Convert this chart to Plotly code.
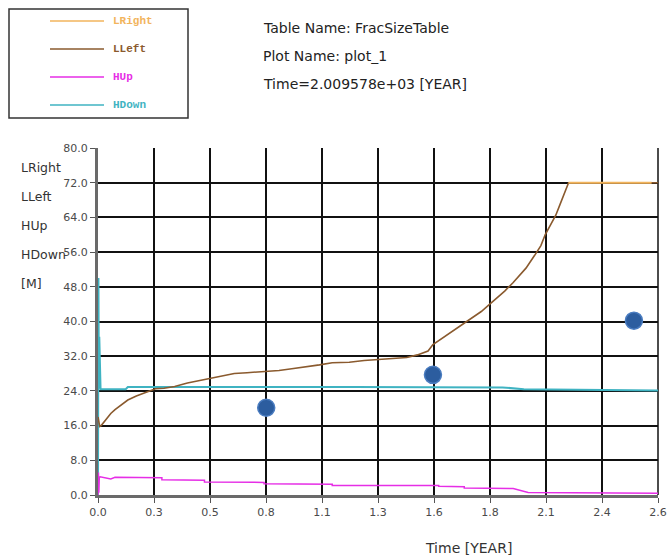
import plotly.graph_objects as go

# ---------------- data ----------------
series_names = ["LRight", "LLeft", "HUp", "HDown"]
series_colors = {"LRight": "#f2b45c", "LLeft": "#8a5a2e", "HUp": "#e62ee6", "HDown": "#3fb3c2"}

lleft_x = [0.0, 0.003, 0.008, 0.015, 0.02, 0.04, 0.06, 0.08, 0.11, 0.14, 0.18, 0.22, 0.27, 0.31,
           0.36, 0.42, 0.47, 0.52, 0.58, 0.64, 0.70, 0.79, 0.85, 0.91, 0.98, 1.04, 1.10, 1.18,
           1.25, 1.30, 1.38, 1.45, 1.50, 1.55, 1.573, 1.62, 1.67, 1.72, 1.76, 1.80, 1.84, 1.87,
           1.91, 1.95, 1.98, 2.01, 2.05, 2.08, 2.10, 2.13, 2.15, 2.17, 2.19, 2.21, 2.40, 2.63]
lleft_y = [18.0, 17.0, 15.8, 16.0, 16.3, 17.6, 18.8, 19.7, 20.9, 21.9, 22.8, 23.6, 24.5, 24.6,
           25.0, 25.8, 26.3, 26.8, 27.3, 28.0, 28.2, 28.4, 28.7, 29.1, 29.5, 30.0, 30.5, 30.6,
           31.0, 31.2, 31.4, 31.7, 32.3, 33.2, 34.7, 36.3, 38.0, 39.6, 41.0, 42.3, 44.0, 45.2,
           47.0, 49.0, 50.6, 52.3, 55.2, 57.5, 60.0, 62.8, 64.5, 67.0, 69.5, 72.0, 72.0, 72.0]

lright_x = [2.21, 2.40, 2.60]
lright_y = [72.0, 72.0, 72.0]

hup_x = [0.0, 0.002, 0.004, 0.006, 0.01, 0.04, 0.06, 0.08, 0.30, 0.30, 0.50, 0.50, 0.78, 0.78,
         1.10, 1.10, 1.60, 1.60, 1.72, 1.72, 1.95, 2.02, 2.40, 2.63]
hup_y = [0.0, 5.2, 0.5, 4.0, 4.2, 4.0, 3.7, 4.1, 4.0, 3.5, 3.4, 3.0, 2.9, 2.6,
         2.5, 2.2, 2.2, 2.0, 1.9, 1.6, 1.5, 0.6, 0.5, 0.4]

hdown_x = [0.0, 0.002, 0.004, 0.006, 0.009, 0.012, 0.13, 0.14, 1.20, 1.90, 2.00, 2.20, 2.63]
hdown_y = [0.0, 50.0, 24.5, 36.5, 24.5, 24.4, 24.4, 24.9, 24.9, 24.8, 24.4, 24.3, 24.1]

marker_x = [0.79, 1.573, 2.517]
marker_y = [20.1, 27.7, 40.2]

x_max = 2.63
x_tick_labels = ["0.0", "0.3", "0.5", "0.8", "1.1", "1.3", "1.6", "1.8", "2.1", "2.4", "2.6"]
y_tick_values = [0, 8, 16, 24, 32, 40, 48, 56, 64, 72, 80]

header_lines = ["Table Name: FracSizeTable", "Plot Name: plot_1", "Time=2.009578e+03 [YEAR]"]
y_title_lines = ["LRight", "LLeft", "HUp", "HDown", "[M]"]
x_title = "Time [YEAR]"

# ---------------- figure ----------------
W, H = 667, 557
ML, MR, MT, MB = 98, 9, 148, 62
PW, PH = W - ML - MR, H - MT - MB

def px_x(p):  # pixel -> paper
    return (p - ML) / PW

def px_y(p):
    return 1 - (p - MT) / PH

fig = go.Figure()
fig.add_trace(go.Scatter(x=hdown_x, y=hdown_y, mode="lines", name="HDown",
                         line=dict(color=series_colors["HDown"], width=2)))
fig.add_trace(go.Scatter(x=hup_x, y=hup_y, mode="lines", name="HUp",
                         line=dict(color=series_colors["HUp"], width=1.5)))
fig.add_trace(go.Scatter(x=lleft_x, y=lleft_y, mode="lines", name="LLeft",
                         line=dict(color=series_colors["LLeft"], width=1.6)))
fig.add_trace(go.Scatter(x=lright_x, y=lright_y, mode="lines", name="LRight",
                         line=dict(color=series_colors["LRight"], width=2)))
fig.add_trace(go.Scatter(x=marker_x, y=marker_y, mode="markers", name="points",
                         marker=dict(size=17, color="#2c5d9f",
                                     line=dict(color="#4a7cc0", width=1.5))))

x_tick_vals = [i * x_max / (len(x_tick_labels) - 1) for i in range(len(x_tick_labels))]

tick_font = dict(family="DejaVu Sans", size=11, color="#4a4a4a")
fig.update_xaxes(range=[0, x_max], tickvals=x_tick_vals, ticktext=x_tick_labels,
                 showgrid=True, gridcolor="#111111", gridwidth=1.5, zeroline=False,
                 showline=True, linecolor="#6a6a6a", linewidth=3, automargin=False,
                 ticks="outside", ticklen=5, tickcolor="#555555", tickfont=tick_font)
fig.update_yaxes(range=[0, 80], tickvals=y_tick_values,
                 ticktext=[f"{v:.1f}" for v in y_tick_values],
                 showgrid=True, gridcolor="#111111", gridwidth=1.5, zeroline=False,
                 showline=True, linecolor="#6a6a6a", linewidth=3, automargin=False,
                 ticks="outside", ticklen=5, tickcolor="#555555", tickfont=tick_font)

shapes = []
annotations = []

# right frame edge (gridline at range end)
shapes.append(dict(type="line", xref="paper", yref="paper", x0=1, x1=1, y0=0, y1=1,
                   line=dict(color="#111111", width=1.5), layer="below"))

# legend box
shapes.append(dict(type="rect", xref="paper", yref="paper",
                   x0=px_x(9), x1=px_x(188), y0=px_y(118), y1=px_y(9),
                   line=dict(color="#333333", width=1.5), fillcolor="white"))
for i, name in enumerate(series_names):
    yy = 21 + i * 28
    shapes.append(dict(type="line", xref="paper", yref="paper",
                       x0=px_x(50), x1=px_x(104), y0=px_y(yy), y1=px_y(yy),
                       line=dict(color=series_colors[name], width=1.5)))
    annotations.append(dict(text=f"<b>{name}</b>", xref="paper", yref="paper",
                            x=px_x(111), y=px_y(yy), xanchor="left", yanchor="middle",
                            showarrow=False,
                            font=dict(family="Liberation Mono, Courier New", size=11,
                                      color=series_colors[name])))

# header text
for i, line in enumerate(header_lines):
    annotations.append(dict(text=line, xref="paper", yref="paper",
                            x=px_x(261), y=px_y(28 + i * 28), xanchor="left", yanchor="middle",
                            showarrow=False,
                            font=dict(family="DejaVu Sans", size=14, color="#222222")))

# y title
for i, line in enumerate(y_title_lines):
    annotations.append(dict(text=line, xref="paper", yref="paper",
                            x=px_x(19), y=px_y(167 + i * 29), xanchor="left", yanchor="middle",
                            showarrow=False,
                            font=dict(family="DejaVu Sans", size=12.5, color="#333333")))

# x title
annotations.append(dict(text=x_title, xref="paper", yref="paper",
                        x=px_x(468), y=px_y(548), xanchor="center", yanchor="middle",
                        showarrow=False,
                        font=dict(family="DejaVu Sans", size=14, color="#333333")))

fig.update_layout(width=W, height=H, margin=dict(l=ML, r=MR, t=MT, b=MB),
                  paper_bgcolor="white", plot_bgcolor="white", showlegend=False,
                  shapes=shapes, annotations=annotations)

fig.write_html("out.html")
